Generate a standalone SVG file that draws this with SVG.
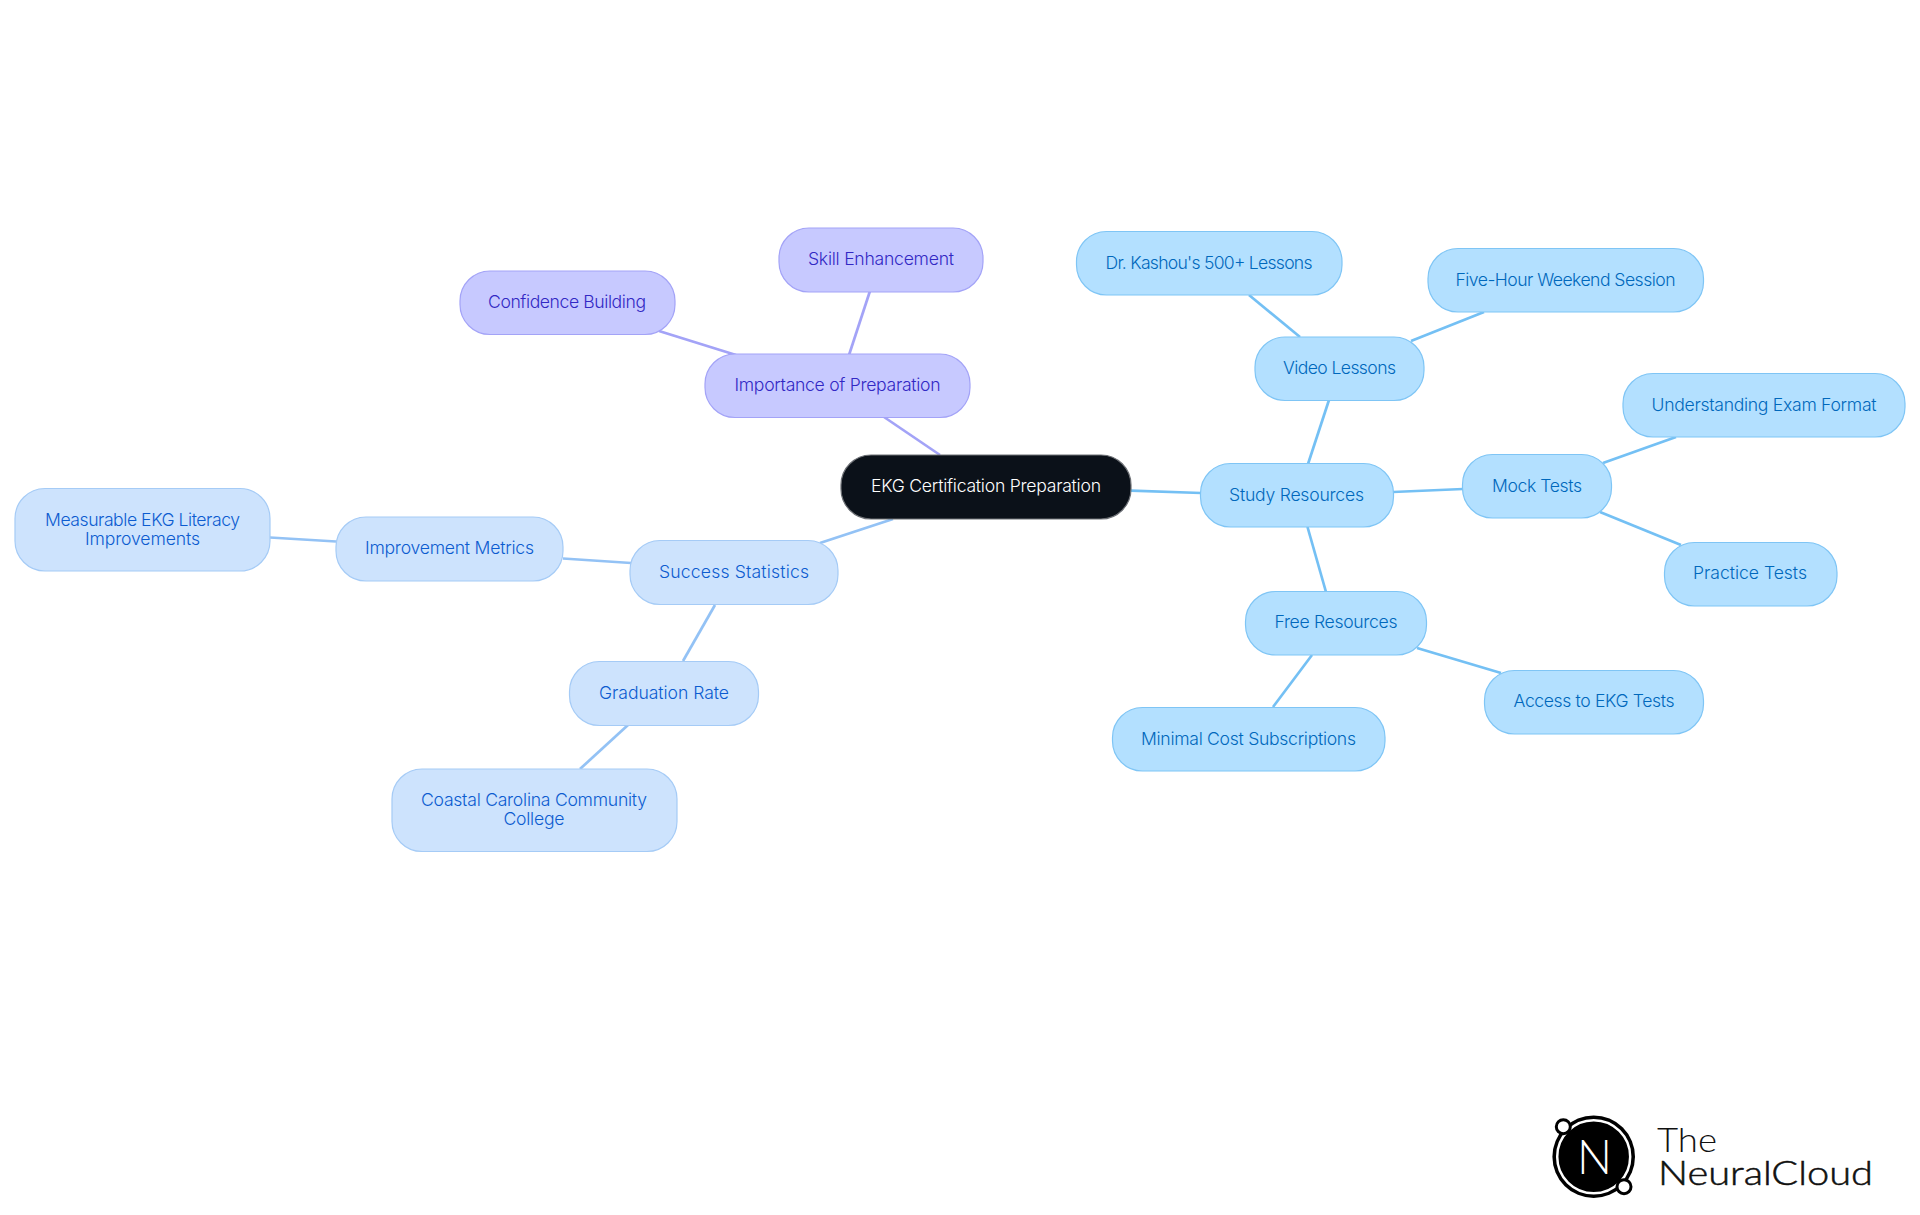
<svg xmlns="http://www.w3.org/2000/svg" width="1920" height="1215" viewBox="0 0 1920 1215">
<style>
text{font-family:"Inter","Noto Sans",sans-serif;font-size:17.6px;font-weight:350;text-anchor:middle}
.n{stroke-width:1.2}
.p .n{fill:#c7c9ff;stroke:#a3a3f7}.p text{fill:#3228c4}
.b .n{fill:#cde3fd;stroke:#a5cbf6}.b text{fill:#0c5cd0}
.s .n{fill:#b3e0ff;stroke:#7fc5f5}.s text{fill:#0068bc}
.r .n{fill:#0b1119;stroke:#6d7075}.r text{fill:#fff}
#connectors line{stroke-width:2.7;fill:none}
.lp{stroke:#a3a3f7}.lb{stroke:#93c2f5}.ls{stroke:#74c0f4}
.logo{fill:#111;text-anchor:start;font-family:"Lato","Noto Sans",sans-serif;font-size:33px;font-weight:300}
</style>
<rect width="1920" height="1215" fill="#fff"/>
<g id="connectors">
<line class="lp" x1="884" y1="417" x2="940" y2="455"/>
<line class="lp" x1="849" y1="355" x2="870" y2="291"/>
<line class="lp" x1="736" y1="355" x2="659" y2="331"/>
<line class="lb" x1="820" y1="543" x2="893" y2="519"/>
<line class="lb" x1="631" y1="563" x2="563" y2="558.500"/>
<line class="lb" x1="336" y1="541.500" x2="270" y2="537.500"/>
<line class="lb" x1="715" y1="605" x2="683" y2="661"/>
<line class="lb" x1="628" y1="725" x2="580" y2="769"/>
<line class="ls" x1="1131" y1="490.700" x2="1201" y2="493"/>
<line class="ls" x1="1308" y1="464" x2="1329" y2="400"/>
<line class="ls" x1="1393" y1="492" x2="1463" y2="489"/>
<line class="ls" x1="1307.500" y1="527" x2="1326" y2="592"/>
<line class="ls" x1="1300" y1="337" x2="1249" y2="295"/>
<line class="ls" x1="1411" y1="341" x2="1484" y2="312"/>
<line class="ls" x1="1603" y1="463" x2="1676" y2="437"/>
<line class="ls" x1="1600" y1="512" x2="1681" y2="545"/>
<line class="ls" x1="1417" y1="648" x2="1501" y2="673"/>
<line class="ls" x1="1312" y1="655" x2="1273" y2="707"/>
</g>
<g id="root" class="r"><rect class="n" x="841" y="455" width="290" height="64" rx="30"/><text x="986" y="492" textLength="230" lengthAdjust="spacing">EKG Certification Preparation</text></g>
<g id="importance" class="p"><rect class="n" x="705" y="354" width="265" height="63.5" rx="30"/><text x="837.5" y="391" textLength="206" lengthAdjust="spacing">Importance of Preparation</text></g>
<g id="skill" class="p"><rect class="n" x="779" y="228" width="204" height="64" rx="30"/><text x="881" y="265" textLength="146" lengthAdjust="spacing">Skill Enhancement</text></g>
<g id="confidence" class="p"><rect class="n" x="460" y="271" width="215" height="63.5" rx="30"/><text x="567" y="308" textLength="158" lengthAdjust="spacing">Confidence Building</text></g>
<g id="success" class="b"><rect class="n" x="630" y="540.500" width="208" height="64" rx="30"/><text x="734" y="578" textLength="150" lengthAdjust="spacing">Success Statistics</text></g>
<g id="improvement" class="b"><rect class="n" x="336" y="517" width="227" height="64" rx="30"/><text x="449.5" y="554" textLength="169" lengthAdjust="spacing">Improvement Metrics</text></g>
<g id="measurable" class="b"><rect class="n" x="15" y="488.5" width="255" height="82.5" rx="30"/><text x="142.500" y="526" textLength="195" lengthAdjust="spacing">Measurable EKG Literacy</text><text x="142.500" y="545" textLength="115" lengthAdjust="spacing">Improvements</text></g>
<g id="graduation" class="b"><rect class="n" x="569.500" y="661.500" width="189" height="64" rx="30"/><text x="664" y="699" textLength="130" lengthAdjust="spacing">Graduation Rate</text></g>
<g id="coastal" class="b"><rect class="n" x="392" y="769" width="285" height="82.500" rx="30"/><text x="534" y="806" textLength="226" lengthAdjust="spacing">Coastal Carolina Community</text><text x="534" y="825" textLength="61" lengthAdjust="spacing">College</text></g>
<g id="study" class="s"><rect class="n" x="1200.500" y="463.500" width="193" height="63.500" rx="30"/><text x="1296.5" y="501" textLength="135" lengthAdjust="spacing">Study Resources</text></g>
<g id="video" class="s"><rect class="n" x="1255" y="337" width="169" height="63.5" rx="30"/><text x="1339.5" y="374" textLength="113" lengthAdjust="spacing">Video Lessons</text></g>
<g id="kashou" class="s"><rect class="n" x="1076.500" y="231.500" width="265.500" height="63.500" rx="30"/><text x="1209" y="269" textLength="207" lengthAdjust="spacing">Dr. Kashou's 500+ Lessons</text></g>
<g id="weekend" class="s"><rect class="n" x="1428" y="248.500" width="275.500" height="63.500" rx="30"/><text x="1565.500" y="286" textLength="220" lengthAdjust="spacing">Five-Hour Weekend Session</text></g>
<g id="mock" class="s"><rect class="n" x="1462.500" y="454.500" width="149" height="63.500" rx="30"/><text x="1537" y="492" textLength="90" lengthAdjust="spacing">Mock Tests</text></g>
<g id="format" class="s"><rect class="n" x="1623" y="373.500" width="282" height="63.500" rx="30"/><text x="1764" y="411" textLength="225" lengthAdjust="spacing">Understanding Exam Format</text></g>
<g id="practice" class="s"><rect class="n" x="1664.500" y="542.500" width="172.500" height="63.500" rx="30"/><text x="1750" y="579" textLength="114" lengthAdjust="spacing">Practice Tests</text></g>
<g id="free" class="s"><rect class="n" x="1245.500" y="591.500" width="181" height="63.500" rx="30"/><text x="1336" y="628" textLength="123" lengthAdjust="spacing">Free Resources</text></g>
<g id="access" class="s"><rect class="n" x="1484.500" y="670.500" width="219" height="63.500" rx="30"/><text x="1594" y="707" textLength="161" lengthAdjust="spacing">Access to EKG Tests</text></g>
<g id="minimal" class="s"><rect class="n" x="1112.500" y="707.500" width="272.500" height="63.500" rx="30"/><text x="1248.500" y="745" textLength="215" lengthAdjust="spacing">Minimal Cost Subscriptions</text></g>
<g id="logo">
<circle cx="1593.700" cy="1156.700" r="41.300" fill="#000"/>
<circle cx="1593.700" cy="1156.700" r="36.500" fill="none" stroke="#fff" stroke-width="2.500"/>
<circle cx="1563.300" cy="1126.700" r="7" fill="#fff" stroke="#000" stroke-width="3"/>
<circle cx="1624" cy="1186.700" r="7" fill="#fff" stroke="#000" stroke-width="3"/>
<text x="1594.500" y="1174" style="font-family:'Lato',sans-serif;font-size:48px;font-weight:300;fill:#fff" textLength="35" lengthAdjust="spacingAndGlyphs">N</text>
<text class="logo" x="1657" y="1151.700" textLength="60" lengthAdjust="spacingAndGlyphs">The</text>
<text class="logo" x="1658" y="1184.500" stroke="#111" stroke-width="0.500" textLength="215" lengthAdjust="spacingAndGlyphs">NeuralCloud</text>
</g>
</svg>
